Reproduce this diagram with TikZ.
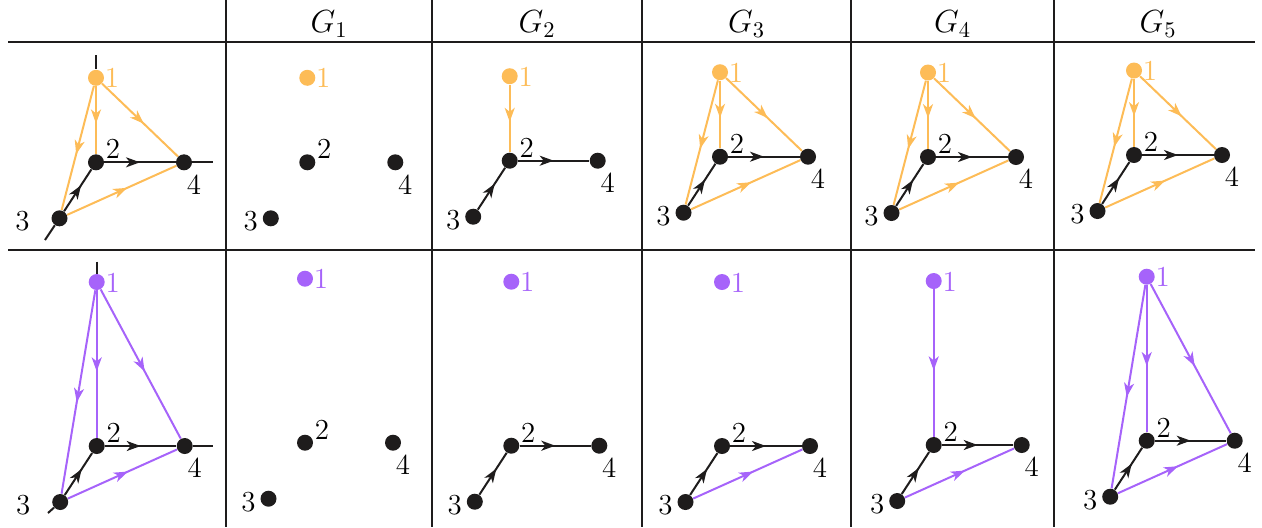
\RequirePackage{fix-cm}
\documentclass[tikz,border=0pt]{standalone}
\usepackage{amsmath}
\usepackage{amssymb}
\usetikzlibrary{arrows.meta,decorations.markings,backgrounds}
\definecolor{orng}{RGB}{253,188,87}
\definecolor{prpl}{RGB}{166,99,250}
\definecolor{dotblk}{RGB}{30,28,28}

\begin{document}
\begin{tikzpicture}[x=0.5pt, y=-0.5pt,
        vtx/.style={circle, fill=dotblk, inner sep=0pt, minimum size=8pt},
        lbl/.style={inner sep=0pt, font=\fontsize{14.5}{17}\selectfont},
        arr/.style={postaction={decorate}, decoration={markings,
            mark=at position #1 with {\arrow{Stealth[length=7pt,width=5pt,inset=2pt]}}}},
        arr/.default=0.55,
        oedge/.style={orng, line width=1pt, arr},
        pedge/.style={prpl, line width=1pt, arr},
        bedge/.style={dotblk, line width=1pt}]
        \useasboundingbox (0,0) rectangle (1262,527);
        \draw[line width=1pt, dotblk] (8,42) -- (1255,42);
        \draw[line width=1pt, dotblk] (8,250) -- (1255,250);
        \foreach \vx in {226,432,642,851,1054}
            \draw[line width=1pt, dotblk] (\vx,0) -- (\vx,527);
        \foreach \i/\hx in {1/329,2/537,3/746.5,4/952.5,5/1158}
            \node[font=\fontsize{16}{19}\selectfont] (h\i) at (\hx,24) {$G_{\i}$};

        \foreach \cl/\x/\y/\dl in {t0/96/162.3/37, t1/307.3/162.3/20, t2/509.7/160.7/20,
                t3/720/156.7/20, t4/928/157/20, t5/1134/155/20}{
            \node[vtx, fill=orng] (\cl-1) at (\x,\y-84.5) {};
            \node[vtx] (\cl-2) at (\x,\y) {};
            \node[vtx] (\cl-3) at (\x-36.5,\y+56) {};
            \node[vtx] (\cl-4) at (\x+88,\y) {};
            \node[lbl, text=orng] (\cl-l1) at (\x+16,\y-84) {1};
            \node[lbl] (\cl-l2) at (\x+17,\y-13) {2};
            \node[lbl] (\cl-l3) at (\x-36.5-\dl,\y+59) {3};
            \node[lbl] (\cl-l4) at (\x+98,\y+22) {4};
        }
        \foreach \cl/\x/\y/\dl in {b0/96.7/446/37, b1/305/442.7/20, b2/511.3/445.7/20,
                b3/722/446/20, b4/933.7/445/20, b5/1146.7/440.7/20}{
            \node[vtx, fill=prpl] (\cl-1) at (\x,\y-164) {};
            \node[vtx] (\cl-2) at (\x,\y) {};
            \node[vtx] (\cl-3) at (\x-36.5,\y+56) {};
            \node[vtx] (\cl-4) at (\x+88,\y) {};
            \node[lbl, text=prpl] (\cl-l1) at (\x+16,\y-163.5) {1};
            \node[lbl] (\cl-l2) at (\x+17,\y-13) {2};
            \node[lbl] (\cl-l3) at (\x-36.5-\dl,\y+59) {3};
            \node[lbl] (\cl-l4) at (\x+98,\y+22) {4};
        }

        \begin{scope}[on background layer]
            \coordinate (t0-up) at (96,55);
            \coordinate (t0-rt) at (212.7,162.3);
            \coordinate (t0-dn) at (45,240);
            \coordinate (b0-up) at (96.7,261.7);
            \coordinate (b0-rt) at (213,446);
            \coordinate (b0-dn) at (48,513);
            \foreach \cl in {t0,b0}{
                \draw[bedge] (\cl-up) -- (\cl-1);
                \draw[bedge] (\cl-4) -- (\cl-rt);
                \draw[bedge] (\cl-3) -- (\cl-dn);
            }
            \foreach \cl in {t0,t2,t3,t4,t5,b0,b2,b3,b4,b5}{
                \draw[bedge, arr=0.62] (\cl-3) -- (\cl-2);
                \draw[bedge, arr=0.5] (\cl-2) -- (\cl-4);
            }
            \foreach \cl in {t0,t3,t4,t5}{
                \draw[oedge] (\cl-1) -- (\cl-2);
                \draw[oedge] (\cl-1) -- (\cl-3);
                \draw[oedge] (\cl-1) -- (\cl-4);
                \draw[oedge] (\cl-3) -- (\cl-4);
            }
            \draw[oedge] (t2-1) -- (t2-2);
            \foreach \cl in {b0,b5}{
                \draw[pedge] (\cl-1) -- (\cl-2);
                \draw[pedge] (\cl-1) -- (\cl-3);
                \draw[pedge] (\cl-1) -- (\cl-4);
                \draw[pedge] (\cl-3) -- (\cl-4);
            }
            \draw[pedge] (b3-3) -- (b3-4);
            \draw[pedge] (b4-1) -- (b4-2);
            \draw[pedge] (b4-3) -- (b4-4);
        \end{scope}
    \end{tikzpicture}
\end{document}
